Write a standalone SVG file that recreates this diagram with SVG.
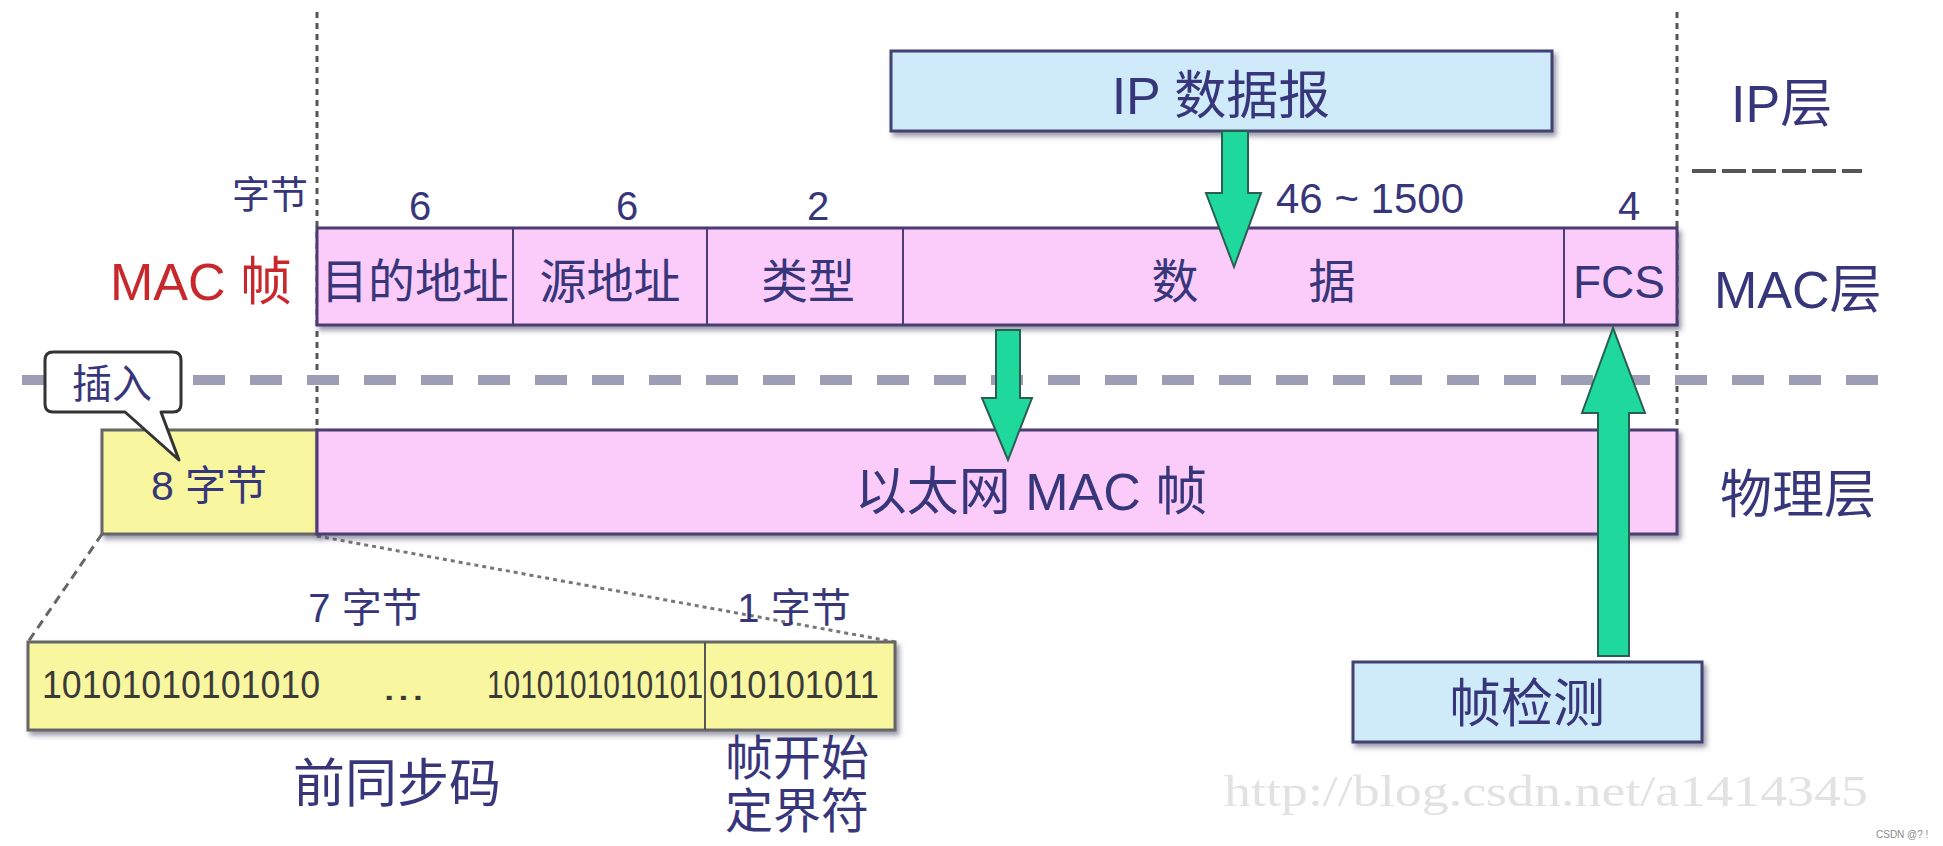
<svg xmlns="http://www.w3.org/2000/svg" width="1943" height="846" viewBox="0 0 1943 846">
<defs>
<filter id="sh" x="-5%" y="-20%" width="115%" height="150%">
<feDropShadow dx="3" dy="4" stdDeviation="2.5" flood-color="#4a4a66" flood-opacity="0.55"/>
</filter>
<style>
.t{font-family:"Liberation Sans","Noto Sans CJK SC",sans-serif;fill:#38367a;}
.c{text-anchor:middle;}
.pink{fill:#fbcbfa;stroke:#4b3d72;stroke-width:3;}
.blue{fill:#cfeaf9;stroke:#434372;stroke-width:3;}
.yel{fill:#f8f69e;stroke:#666;stroke-width:3;}
.arr{fill:#1fd99c;stroke:#2b5e52;stroke-width:2;}
.bits{font-family:"Liberation Sans",sans-serif;fill:#3a3a3a;font-size:30px;}
.vdot{stroke:#555;stroke-width:3;stroke-dasharray:6 5;fill:none;}
</style>
</defs>
<rect width="1943" height="846" fill="#ffffff"/>

<!-- guide lines -->
<g id="guides">
<line class="vdot" x1="317" y1="12" x2="317" y2="534"/>
<line class="vdot" x1="1677" y1="12" x2="1677" y2="430"/>
<line x1="1692" y1="171" x2="1862" y2="171" stroke="#555" stroke-width="4" stroke-dasharray="24 6"/>
<line x1="22" y1="380" x2="1895" y2="380" stroke="#9d9db6" stroke-width="10" stroke-dasharray="32 25"/>
<line x1="102" y1="534" x2="28" y2="642" stroke="#666" stroke-width="3" stroke-dasharray="9 6"/>
<line x1="317" y1="536" x2="895" y2="642" stroke="#777" stroke-width="3" stroke-dasharray="4 4"/>
</g>

<!-- IP datagram -->
<g id="ip-datagram">
<rect class="blue" x="891" y="51" width="661" height="80" filter="url(#sh)"/>
<text class="t c" x="1221" y="114" font-size="52">IP 数据报</text>
</g>

<!-- layer labels -->
<g id="layer-labels">
<text class="t" x="1731" y="122" font-size="52">IP层</text>
<text class="t" x="1714" y="308" font-size="52">MAC层</text>
<text class="t" x="1720" y="513" font-size="52">物理层</text>
</g>

<!-- byte counts -->
<g id="byte-counts">
<text class="t" x="308" y="208" font-size="38" text-anchor="end">字节</text>
<text class="t c" x="420" y="220" font-size="40">6</text>
<text class="t c" x="627" y="220" font-size="40">6</text>
<text class="t c" x="818" y="220" font-size="40">2</text>
<text class="t" x="1276" y="213" font-size="42">46 ~ 1500</text>
<text class="t c" x="1629" y="220" font-size="40">4</text>
</g>

<!-- MAC frame -->
<g id="mac-frame">
<text x="292" y="300" font-size="52" text-anchor="end" style="font-family:'Liberation Sans','Noto Sans CJK SC',sans-serif;fill:#c8282c;">MAC 帧</text>
<rect class="pink" x="317" y="228" width="1360" height="97" filter="url(#sh)"/>
<line x1="513" y1="228" x2="513" y2="325" stroke="#4b3d72" stroke-width="2"/>
<line x1="707" y1="228" x2="707" y2="325" stroke="#4b3d72" stroke-width="2"/>
<line x1="903" y1="228" x2="903" y2="325" stroke="#4b3d72" stroke-width="2"/>
<line x1="1564" y1="228" x2="1564" y2="325" stroke="#4b3d72" stroke-width="2"/>
<text class="t c" x="415" y="298" font-size="47">目的地址</text>
<text class="t c" x="610" y="298" font-size="47">源地址</text>
<text class="t c" x="808" y="298" font-size="47">类型</text>
<text class="t c" x="1175" y="298" font-size="47">数</text>
<text class="t c" x="1332" y="298" font-size="47">据</text>
<text class="t c" x="1619" y="298" font-size="46">FCS</text>
</g>

<!-- physical layer frame -->
<g id="phy-frame">
<rect class="yel" x="102" y="430" width="215" height="104" filter="url(#sh)"/>
<rect class="pink" x="317" y="430" width="1360" height="104" filter="url(#sh)"/>
<text class="t c" x="209" y="500" font-size="41">8 字节</text>
<text class="t c" x="1031" y="510" font-size="52">以太网 MAC 帧</text>
</g>

<!-- callout -->
<g id="callout-insert">
<path d="M53,352 H173 Q181,352 181,360 V404 Q181,412 173,412 H161 L179,460 L125,412 H53 Q45,412 45,404 V360 Q45,352 53,352 Z" fill="#ffffff" stroke="#333" stroke-width="3" stroke-linejoin="round"/>
<text class="t c" x="112" y="398" font-size="40">插入</text>
</g>

<!-- frame check -->
<g id="frame-check">
<rect class="blue" x="1353" y="662" width="349" height="80" filter="url(#sh)"/>
<text class="t c" x="1527" y="722" font-size="52">帧检测</text>
</g>

<!-- preamble -->
<g id="preamble">
<rect class="yel" x="28" y="642" width="867" height="88" filter="url(#sh)"/>
<line x1="705" y1="642" x2="705" y2="730" stroke="#555" stroke-width="2"/>
<text class="bits" transform="translate(42,698) scale(1,1.28)" x="0" y="0" textLength="278" lengthAdjust="spacingAndGlyphs">10101010101010</text>
<text class="bits" transform="translate(382,700) scale(1,1.28)" x="0" y="0" textLength="43" lengthAdjust="spacingAndGlyphs">...</text>
<text class="bits" transform="translate(487,698) scale(1,1.28)" x="0" y="0" textLength="216" lengthAdjust="spacingAndGlyphs">1010101010101</text>
<text class="bits" transform="translate(709,698) scale(1,1.28)" x="0" y="0" textLength="170" lengthAdjust="spacingAndGlyphs">010101011</text>
<text class="t c" x="365" y="622" font-size="40">7 字节</text>
<text class="t c" x="794" y="622" font-size="40">1 字节</text>
<text class="t c" x="397" y="802" font-size="52">前同步码</text>
<text class="t c" x="797" y="775" font-size="48">帧开始</text>
<text class="t c" x="797" y="828" font-size="48">定界符</text>
</g>

<!-- connectors -->
<g id="connectors">
<path class="arr" d="M1222,131 H1248 V193 H1261 L1234,267 L1206,193 H1222 Z"/>
<path class="arr" d="M996,330 H1020 V398 H1032 L1008,460 L982,398 H996 Z"/>
<path class="arr" d="M1598,656 V413 H1582 L1613,328 L1645,413 H1629 V656 Z"/>
</g>

<!-- watermark -->
<g id="watermark">
<text x="1224" y="806" font-size="44" textLength="644" lengthAdjust="spacingAndGlyphs" style="font-family:'Liberation Serif',serif;fill:#e2e2e2;">http://blog.csdn.net/a1414345</text>
<text x="1876" y="838" font-size="10" style="font-family:'Liberation Sans',sans-serif;fill:#8a8a8a;">CSDN @?  !</text>
</g>
</svg>
